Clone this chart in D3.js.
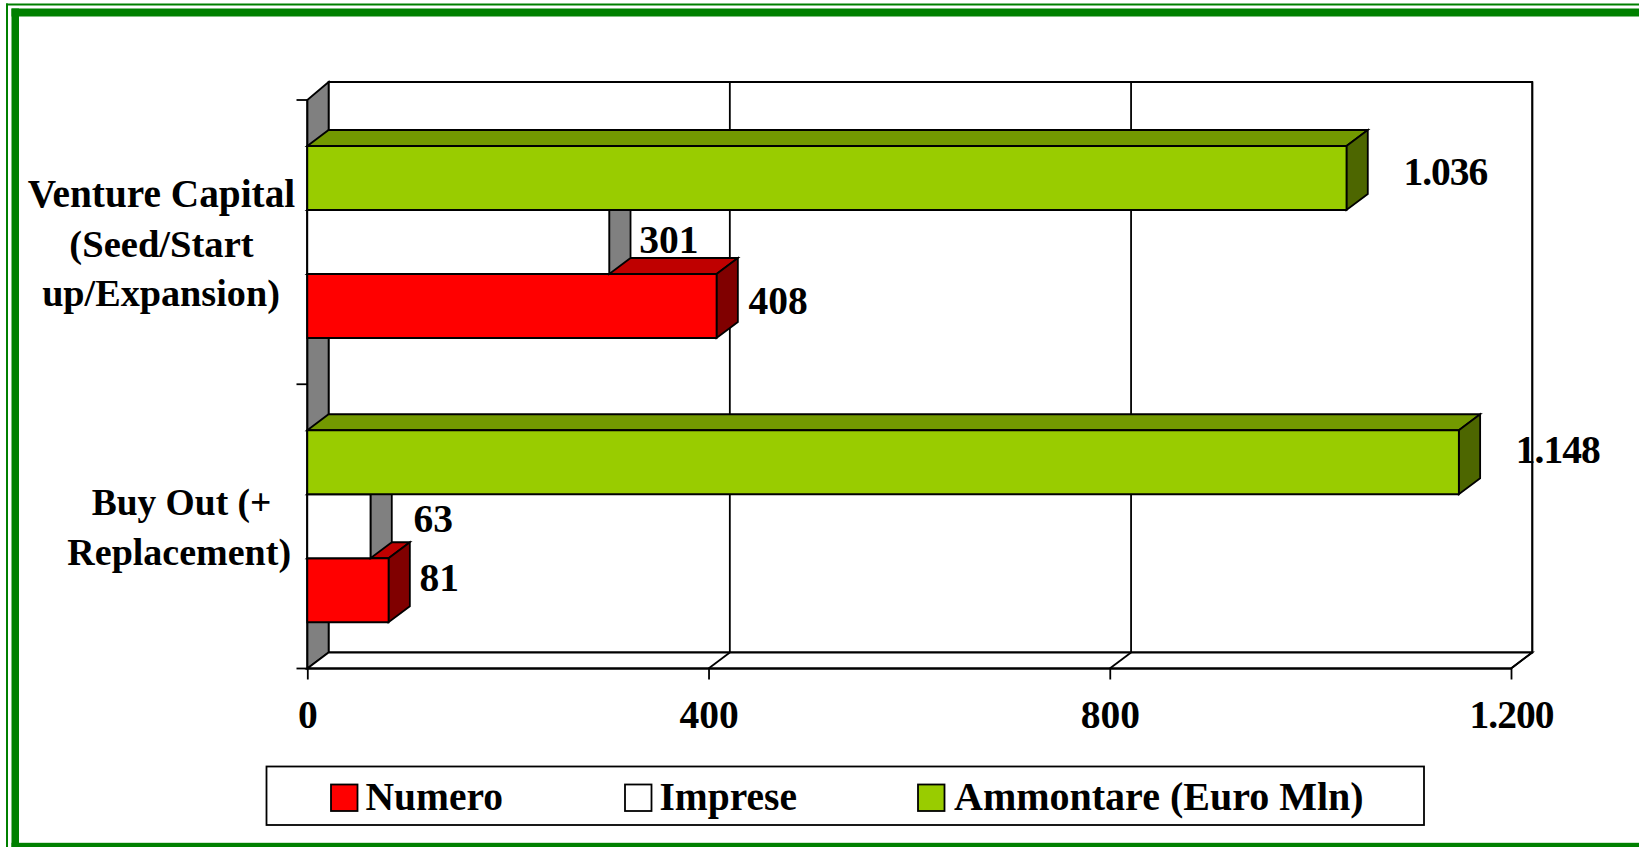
<!DOCTYPE html>
<html>
<head>
<meta charset="utf-8">
<script src="https://cdnjs.cloudflare.com/ajax/libs/d3/7.8.5/d3.min.js"></script>
<style>
html,body{margin:0;padding:0;background:#fff;overflow:hidden}
svg{display:block}
text{font-family:"Liberation Serif","Times New Roman",serif;font-weight:bold;fill:#000}
</style>
</head>
<body>
<svg id="chart" width="1639" height="847"></svg>
<script>
// ---- data ----
const categories = ["Venture Capital (Seed/Start up/Expansion)", "Buy Out (+ Replacement)"];
const seriesNames = ["Ammontare (Euro Mln)", "Imprese", "Numero"];
const ammontare = [1036, 1148];
const imprese = [301, 63];
const numero = [408, 81];
const xTickValues = [0, 400, 800, 1200];
const legendOrder = ["Numero", "Imprese", "Ammontare (Euro Mln)"];

// ---- layout & styles ----
const W = 1639, H = 847, FS = 39.5;
const dx = 21.3, dy = -16;
const seriesValues = {"Ammontare (Euro Mln)": ammontare, "Imprese": imprese, "Numero": numero};
const colors = {
  "Ammontare (Euro Mln)": {front:"#99CC00", top:"#739900", side:"#4D6600"},
  "Imprese": {front:"#FFFFFF", top:"#BFBFBF", side:"#808080"},
  "Numero": {front:"#FF0000", top:"#BF0000", side:"#800000"}
};
const catLines = [
  {lines:["Venture Capital","(Seed/Start","up/Expansion)"], cx:[161.5,161.5,161], base:[206.5,256.5,305.5], fs:[39.3,38.6,38.2]},
  {lines:["Buy Out (+","Replacement)"], cx:[181.5,179.2], base:[515,565], fs:[37.5,38]}
];
// label placement relative to the bar end [x offset, baseline offset from bar top], by series then category
const labelPlace = {
  "Ammontare (Euro Mln)": [[57,39],[57,33]],
  "Imprese": [[30,43],[43,38]],
  "Numero": [[32,40],[31,33]]
};
const legendPlace = {
  "Numero":{sw:331,tx:365.5,fs:39.5},
  "Imprese":{sw:625,tx:659.5,fs:39.5},
  "Ammontare (Euro Mln)":{sw:918,tx:954,fs:40}
};

const svg = d3.select("#chart");
const loc = d3.formatLocale({decimal:",",thousands:".",grouping:[3],currency:["",""]});
const fmt = loc.format(",d");
const spacing = v => v >= 1000 ? "-1px" : null;

const x = d3.scaleLinear().domain([0,1200]).range([307.3,1511]);
const yCat = d3.scaleBand().domain(categories).range([100,668.5]);
const ySer = d3.scaleBand().domain(seriesNames).range([46,238]);

const poly = pts => "M" + pts.map(p => p.join(",")).join("L") + "Z";
const STROKE = 1.8;
const plotTop = 100, plotBackTop = 82, plotBottom = 668.5;

// frame
const green = "#008000";
svg.append("rect").attr("x",6).attr("y",3.5).attr("width",W).attr("height",2).attr("fill",green);
svg.append("rect").attr("x",6).attr("y",3.5).attr("width",2).attr("height",H).attr("fill",green);
svg.append("rect").attr("x",11.5).attr("y",8.5).attr("width",W).attr("height",8).attr("fill",green);
svg.append("rect").attr("x",11.5).attr("y",8.5).attr("width",7.5).attr("height",H).attr("fill",green);
svg.append("rect").attr("x",11.5).attr("y",842.8).attr("width",W).attr("height",5).attr("fill",green);

// walls
const g = svg.append("g").attr("fill","none").attr("stroke","#000").attr("stroke-width",STROKE);
g.append("path").attr("d",poly([[x(0)+dx,plotBackTop],[x(1200)+dx,plotBackTop],[x(1200)+dx,plotBottom+dy],[x(0)+dx,plotBottom+dy]])).attr("fill","#fff");
g.append("path").attr("d",poly([[x(0),plotTop],[x(0)+dx,plotBackTop],[x(0)+dx,plotBottom+dy],[x(0),plotBottom]])).attr("fill","#808080");
g.append("path").attr("d",poly([[x(0),plotBottom],[x(0)+dx,plotBottom+dy],[x(1200)+dx,plotBottom+dy],[x(1200),plotBottom]])).attr("fill","#fff");

// gridlines and depth connectors
g.selectAll(".grid").data(xTickValues.slice(1)).enter().append("line")
  .attr("x1",d=>x(d)+dx).attr("x2",d=>x(d)+dx).attr("y1",plotBackTop).attr("y2",plotBottom+dy);
g.selectAll(".conn").data(xTickValues.slice(1)).enter().append("line")
  .attr("x1",d=>x(d)).attr("x2",d=>x(d)+dx).attr("y1",plotBottom).attr("y2",plotBottom+dy);

// x axis
const xAxis = d3.axisBottom(x).tickValues(xTickValues).tickSize(11).tickPadding(0).tickFormat(fmt);
const ax = svg.append("g").attr("transform",`translate(0,${plotBottom})`).call(xAxis);
ax.selectAll("path,line").attr("stroke","#000").attr("stroke-width",STROKE);
ax.selectAll("text").attr("font-size",FS).attr("dy",null).attr("y",59.5).style("letter-spacing",spacing);
ax.attr("font-family",null).attr("font-size",null);
ax.select(".domain").attr("d",`M${x(0)},0H${x(1200)}`);

// y axis
const yEdges = categories.map(c=>yCat(c)).concat([plotBottom]);
g.selectAll(".yt").data(yEdges).enter().append("line")
  .attr("x1",296.5).attr("x2",x(0)).attr("y1",d=>d).attr("y2",d=>d);
g.append("line").attr("x1",x(0)).attr("x2",x(0)).attr("y1",plotTop).attr("y2",plotBottom);

// bars: the white Imprese bar hides the left part of the red bar's top face
const drawOrder = ["Numero","Imprese","Ammontare (Euro Mln)"];
categories.forEach((c,ci)=>{
  drawOrder.forEach(s=>{
    const v = seriesValues[s][ci], col = colors[s];
    const y0 = yCat(c)+ySer(s), y1 = y0+ySer.bandwidth(), xv = x(v), x0 = x(0);
    const b = g.append("g");
    b.append("path").attr("fill",col.top).attr("d",poly([[x0,y0],[x0+dx,y0+dy],[xv+dx,y0+dy],[xv,y0]]));
    b.append("path").attr("fill",col.side).attr("d",poly([[xv,y0],[xv+dx,y0+dy],[xv+dx,y1+dy],[xv,y1]]));
    b.append("path").attr("fill",col.front).attr("d",poly([[x0,y0],[xv,y0],[xv,y1],[x0,y1]]));
  });
});

// data labels
categories.forEach((c,ci)=>{
  seriesNames.forEach(s=>{
    const v = seriesValues[s][ci], p = labelPlace[s][ci];
    svg.append("text").attr("x",x(v)+p[0]).attr("y",yCat(c)+ySer(s)+p[1]).attr("font-size",FS)
      .style("letter-spacing",spacing(v)).text(fmt(v));
  });
});

// category labels
catLines.forEach(cl=>{
  cl.lines.forEach((t,i)=>{
    svg.append("text").attr("x",cl.cx[i]).attr("y",cl.base[i]).attr("text-anchor","middle").attr("font-size",cl.fs[i]).text(t);
  });
});

// legend
svg.append("rect").attr("x",266.5).attr("y",766.5).attr("width",1157.5).attr("height",58.5)
  .attr("fill","#fff").attr("stroke","#000").attr("stroke-width",STROKE);
legendOrder.forEach(s=>{
  const p = legendPlace[s];
  svg.append("rect").attr("x",p.sw).attr("y",784.5).attr("width",26.5).attr("height",26.5)
    .attr("fill",colors[s].front).attr("stroke","#000").attr("stroke-width",STROKE);
  svg.append("text").attr("x",p.tx).attr("y",810).attr("font-size",p.fs).text(s);
});
</script>
</body>
</html>
